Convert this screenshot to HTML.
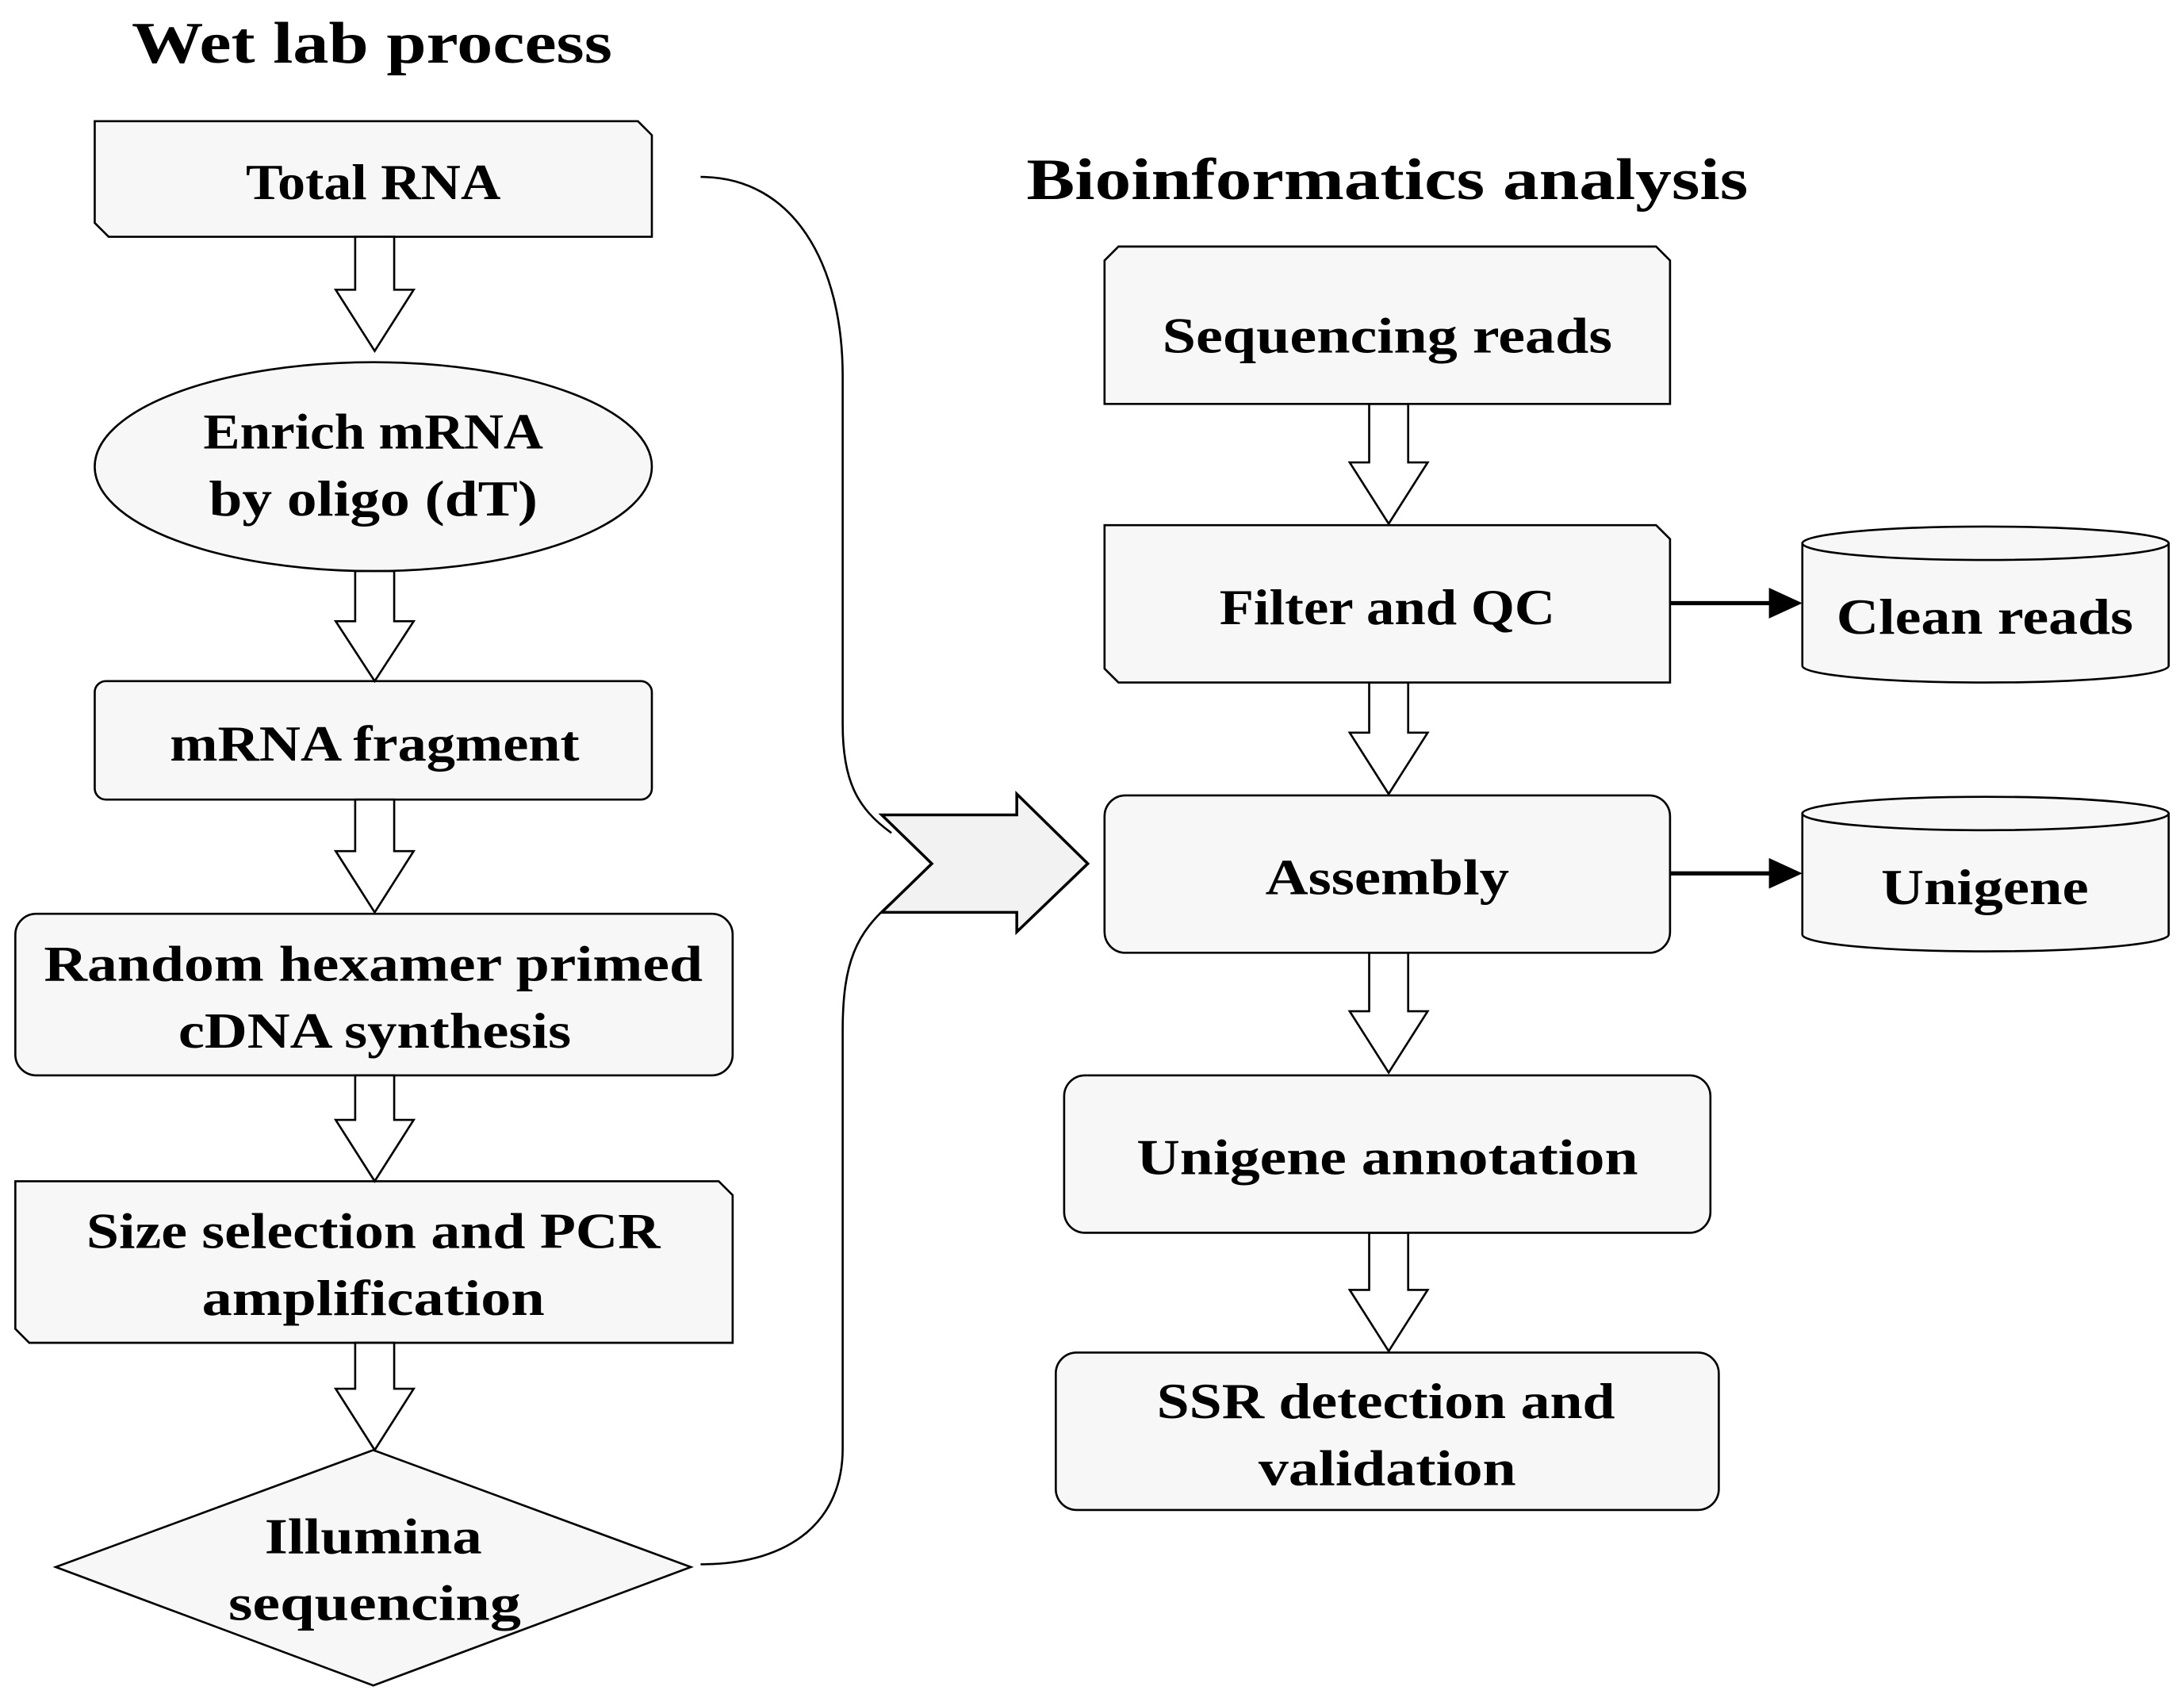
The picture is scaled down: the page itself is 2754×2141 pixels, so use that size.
<!DOCTYPE html>
<html><head><style>html,body{margin:0;padding:0;background:#fff}svg{display:block}</style></head><body>
<svg width="2754" height="2141" viewBox="0 0 1568 1219" xmlns="http://www.w3.org/2000/svg">
<g font-family="'Liberation Serif', serif" font-weight="bold" fill="#000" text-anchor="middle" lengthAdjust="spacingAndGlyphs">
<text x="267" y="45" font-size="42" textLength="345" lengthAdjust="spacingAndGlyphs">Wet lab process</text>
<text x="996" y="143" font-size="42" textLength="518" lengthAdjust="spacingAndGlyphs">Bioinformatics analysis</text>
</g>
<g stroke="#000" stroke-width="1.5" fill="#f7f7f7">
<path d="M503,127 C570,127 605,190 605,270 L605,520 C605,560 615,580 640,598" fill="none"/>
<path d="M640,648 C615,670 605,690 605,740 L605,1040 C605,1090 570,1123 503,1123" fill="none"/>
<polygon points="633,585 730,585 730,570 781,620 730,669 730,655 633,655 669,620" fill="#f2f2f2" stroke-width="2"/>
<polygon points="68,87 458,87 468,97 468,170 78,170 68,160"/>
<ellipse cx="268" cy="335" rx="200" ry="75"/>
<rect x="68" y="489" width="400" height="85" rx="8"/>
<rect x="11" y="656" width="515" height="116" rx="15"/>
<polygon points="11,848 516,848 526,858 526,964 21,964 11,954"/>
<polygon points="40,1125 268,1041 496,1125 268,1210"/>
<g fill="#fff">
<polygon points="255,170 283,170 283,208 297,208 269,252 241,208 255,208"/>
<polygon points="255,410 283,410 283,446 297,446 269,489 241,446 255,446"/>
<polygon points="255,574 283,574 283,611 297,611 269,655 241,611 255,611"/>
<polygon points="255,772 283,772 283,804 297,804 269,848 241,804 255,804"/>
<polygon points="255,964 283,964 283,997 297,997 269,1041 241,997 255,997"/>
<polygon points="983,290 1011,290 1011,332 1025,332 997,376 969,332 983,332"/>
<polygon points="983,490 1011,490 1011,526 1025,526 997,570 969,526 983,526"/>
<polygon points="983,684 1011,684 1011,726 1025,726 997,770 969,726 983,726"/>
<polygon points="983,885 1011,885 1011,926 1025,926 997,970 969,926 983,926"/>
</g>
<polygon points="803,177 1189,177 1199,187 1199,290 793,290 793,187"/>
<polygon points="793,377 1189,377 1199,387 1199,490 803,490 793,480"/>
<rect x="793" y="571" width="406" height="113" rx="15"/>
<rect x="764" y="772" width="464" height="113" rx="15"/>
<rect x="758" y="971" width="476" height="113" rx="15"/>
<path d="M1294,390 L1294,478 A131.5,12 0 0 0 1557,478 L1557,390 Z"/>
<ellipse cx="1425.5" cy="390" rx="131.5" ry="12"/>
<path d="M1294,584 L1294,671 A131.5,12 0 0 0 1557,671 L1557,584 Z"/>
<ellipse cx="1425.5" cy="584" rx="131.5" ry="12"/>
<line x1="1199" y1="433" x2="1272" y2="433" stroke-width="3"/>
<line x1="1199" y1="627" x2="1272" y2="627" stroke-width="3"/>
<polygon points="1270,422 1294,433 1270,444" fill="#000" stroke="none"/>
<polygon points="1270,616 1294,627 1270,638" fill="#000" stroke="none"/>
</g>
<g font-family="'Liberation Serif', serif" font-weight="bold" fill="#000" text-anchor="middle" font-size="36">
<text x="268" y="143" textLength="183" lengthAdjust="spacingAndGlyphs">Total RNA</text>
<text x="268" y="322" textLength="244" lengthAdjust="spacingAndGlyphs">Enrich mRNA</text>
<text x="268" y="370" textLength="236" lengthAdjust="spacingAndGlyphs">by oligo (dT)</text>
<text x="269" y="546" textLength="294" lengthAdjust="spacingAndGlyphs">mRNA fragment</text>
<text x="268" y="704" textLength="473" lengthAdjust="spacingAndGlyphs">Random hexamer primed</text>
<text x="269" y="752" textLength="282" lengthAdjust="spacingAndGlyphs">cDNA synthesis</text>
<text x="268" y="896" textLength="412" lengthAdjust="spacingAndGlyphs">Size selection and PCR</text>
<text x="268" y="944" textLength="246" lengthAdjust="spacingAndGlyphs">amplification</text>
<text x="268" y="1115" textLength="156" lengthAdjust="spacingAndGlyphs">Illumina</text>
<text x="269" y="1163" textLength="210" lengthAdjust="spacingAndGlyphs">sequencing</text>
<text x="996" y="253" textLength="323" lengthAdjust="spacingAndGlyphs">Sequencing reads</text>
<text x="996" y="448" textLength="241" lengthAdjust="spacingAndGlyphs">Filter and QC</text>
<text x="996" y="642" textLength="175" lengthAdjust="spacingAndGlyphs">Assembly</text>
<text x="996" y="843" textLength="360" lengthAdjust="spacingAndGlyphs">Unigene annotation</text>
<text x="995" y="1018" textLength="329" lengthAdjust="spacingAndGlyphs">SSR detection and</text>
<text x="996" y="1066" textLength="185" lengthAdjust="spacingAndGlyphs">validation</text>
<text x="1425" y="455" textLength="213" lengthAdjust="spacingAndGlyphs">Clean reads</text>
<text x="1425" y="649" textLength="149" lengthAdjust="spacingAndGlyphs">Unigene</text>
</g>
</svg>
</body></html>
